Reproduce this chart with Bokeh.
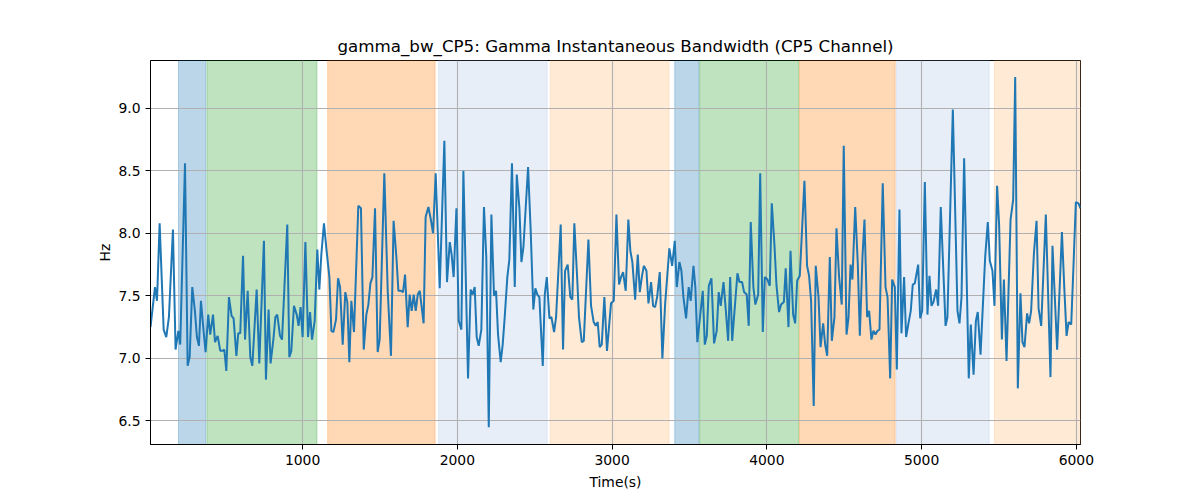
from bokeh.plotting import figure
from bokeh.models import Range1d, FixedTicker, PrintfTickFormatter, ColumnDataSource
from bokeh.embed import file_html
from bokeh.resources import INLINE

# ---- data ----
time_s = [
    17, 46, 59, 76, 102, 119, 136, 162, 179, 197, 209, 240, 257, 270, 287, 304, 317, 330, 343, 360,
    373, 390, 403, 421, 434, 451, 468, 481, 494, 507, 524, 541, 554, 572, 584, 597, 615, 628, 645, 662,
    675, 703, 720, 750, 763, 780, 793, 811, 824, 836, 854, 867, 901, 914, 927, 944, 962, 974, 987, 1000,
    1018, 1035, 1048, 1061, 1078, 1095, 1108, 1121, 1138, 1155, 1173, 1186, 1199, 1216, 1229, 1242, 1259, 1276, 1289, 1302,
    1315, 1332, 1360, 1377, 1395, 1412, 1425, 1438, 1451, 1468, 1485, 1498, 1528, 1550, 1571, 1588, 1606, 1619, 1636, 1649,
    1662, 1679, 1692, 1705, 1718, 1731, 1744, 1757, 1782, 1795, 1813, 1830, 1843, 1860, 1886, 1916, 1933, 1951, 1963, 1976,
    1994, 2009, 2026, 2039, 2069, 2086, 2099, 2112, 2125, 2138, 2155, 2172, 2187, 2203, 2220, 2237, 2250, 2263, 2280, 2293,
    2306, 2323, 2336, 2353, 2371, 2384, 2401, 2414, 2427, 2457, 2474, 2491, 2504, 2517, 2530, 2552, 2565, 2578, 2595, 2608,
    2625, 2638, 2668, 2683, 2696, 2713, 2730, 2743, 2756, 2774, 2786, 2804, 2817, 2847, 2864, 2881, 2894, 2907, 2920, 2933,
    2950, 2967, 2993, 3011, 3028, 3045, 3058, 3071, 3088, 3105, 3118, 3131, 3149, 3166, 3179, 3192, 3205, 3222, 3235, 3252,
    3265, 3278, 3291, 3308, 3325, 3343, 3370, 3388, 3405, 3418, 3435, 3448, 3461, 3478, 3495, 3508, 3526, 3538, 3551, 3586,
    3599, 3612, 3625, 3642, 3659, 3676, 3689, 3702, 3720, 3732, 3750, 3763, 3776, 3810, 3823, 3840, 3853, 3870, 3883, 3896,
    3913, 3926, 3944, 3957, 3974, 3987, 4004, 4019, 4032, 4049, 4062, 4079, 4092, 4110, 4122, 4140, 4153, 4170, 4183, 4196,
    4213, 4243, 4260, 4273, 4286, 4303, 4316, 4334, 4347, 4364, 4377, 4390, 4407, 4420, 4437, 4450, 4467, 4484, 4497, 4515,
    4528, 4541, 4553, 4571, 4588, 4601, 4618, 4631, 4648, 4661, 4676, 4689, 4702, 4715, 4728, 4749, 4767, 4780, 4797, 4810,
    4827, 4840, 4857, 4870, 4887, 4900, 4918, 4930, 4943, 4956, 4978, 4991, 5004, 5021, 5038, 5051, 5064, 5077, 5094, 5107,
    5124, 5155, 5167, 5202, 5232, 5245, 5258, 5275, 5305, 5318, 5336, 5351, 5363, 5381, 5411, 5428, 5441, 5458, 5471, 5488,
    5501, 5519, 5532, 5549, 5575, 5592, 5605, 5622, 5639, 5652, 5665, 5682, 5695, 5708, 5726, 5743, 5756, 5773, 5803, 5833,
    5846, 5861, 5876, 5907, 5922, 5937, 5950, 5967, 5982, 5997, 6014, 6027,
]
bandwidth_hz = [
    7.25, 7.57, 7.46, 8.08, 7.23, 7.17, 7.33, 8.03, 7.07, 7.22, 7.11, 8.56, 6.94, 7.01, 7.57, 7.38, 7.17, 7.10, 7.46, 7.22,
    7.05, 7.35, 7.19, 7.35, 7.13, 7.18, 7.06, 7.06, 7.07, 6.90, 7.49, 7.34, 7.32, 7.02, 7.20, 7.20, 7.82, 7.15, 7.54, 7.01,
    6.94, 7.55, 6.96, 7.94, 6.83, 7.39, 6.96, 7.15, 7.33, 7.35, 7.18, 7.15, 8.07, 7.01, 7.06, 7.42, 7.35, 7.26, 7.41, 7.17,
    7.93, 7.17, 7.37, 7.15, 7.30, 7.87, 7.55, 7.83, 8.08, 7.86, 7.65, 7.22, 7.21, 7.31, 7.64, 7.57, 7.11, 7.53, 7.45, 6.97,
    7.46, 7.21, 8.22, 8.20, 7.07, 7.35, 7.43, 7.60, 7.65, 8.20, 7.05, 7.15, 8.48, 7.54, 7.02, 8.10, 7.81, 7.54, 7.54, 7.53,
    7.67, 7.25, 7.51, 7.38, 7.51, 7.38, 7.51, 7.54, 7.28, 8.13, 8.21, 8.10, 8.00, 8.48, 7.56, 8.74, 7.61, 7.93, 7.83, 7.65,
    8.20, 7.30, 7.23, 8.50, 6.84, 7.55, 7.51, 7.57, 7.17, 7.10, 7.23, 8.21, 7.81, 6.45, 8.15, 7.50, 7.54, 7.19, 6.97, 7.11,
    7.33, 7.65, 7.79, 8.56, 7.57, 8.47, 8.20, 7.77, 7.89, 8.53, 8.02, 7.39, 7.56, 7.51, 7.49, 6.94, 7.51, 7.65, 7.32, 7.33,
    7.21, 7.33, 8.07, 7.07, 7.70, 7.75, 7.49, 7.47, 8.08, 7.65, 7.33, 7.13, 7.14, 7.95, 7.42, 7.29, 7.26, 7.29, 7.09, 7.11,
    7.49, 7.06, 7.44, 7.46, 8.15, 7.59, 7.65, 7.69, 7.54, 8.11, 7.86, 7.77, 7.47, 7.83, 7.53, 7.65, 7.74, 7.70, 7.44, 7.61,
    7.42, 7.41, 7.49, 7.69, 7.00, 7.44, 7.88, 7.74, 7.94, 7.57, 7.77, 7.70, 7.49, 7.32, 7.57, 7.46, 7.74, 7.57, 7.13, 7.54,
    7.11, 7.18, 7.58, 7.64, 7.12, 7.22, 7.53, 7.42, 7.61, 7.43, 7.14, 7.65, 7.14, 7.68, 7.61, 7.61, 7.53, 7.51, 7.26, 8.09,
    7.57, 7.43, 7.51, 8.48, 7.21, 7.65, 7.63, 7.58, 8.24, 7.91, 7.59, 7.37, 7.43, 7.45, 7.72, 7.25, 7.86, 7.35, 7.28, 7.62,
    7.66, 8.42, 7.74, 7.66, 7.46, 6.62, 7.74, 7.49, 7.09, 7.28, 7.11, 7.02, 7.81, 7.14, 7.33, 8.04, 7.65, 7.43, 8.70, 7.19,
    7.33, 7.75, 7.63, 8.21, 7.75, 7.18, 7.81, 8.11, 7.33, 7.38, 7.15, 7.22, 7.19, 7.22, 7.23, 8.40, 7.57, 7.49, 6.84, 7.63,
    7.57, 6.91, 8.19, 7.20, 7.65, 7.17, 7.30, 7.38, 7.59, 7.60, 7.75, 7.32, 7.38, 8.41, 7.35, 7.66, 7.42, 7.45, 7.55, 7.42,
    8.21, 7.26, 7.33, 8.99, 7.38, 7.28, 7.49, 8.60, 6.84, 7.27, 6.87, 7.30, 7.37, 7.03, 7.81, 8.09, 7.78, 7.70, 7.42, 8.38,
    8.07, 7.15, 7.63, 6.98, 8.11, 8.27, 9.25, 6.76, 7.52, 7.13, 7.09, 7.36, 7.28, 7.38, 7.84, 8.10, 7.40, 7.26, 8.15, 6.85,
    7.90, 7.49, 7.07, 8.01, 7.57, 7.18, 7.29, 7.27, 7.75, 8.25, 8.24, 8.20,
]

span_start = [198, 382, 1162, 1879, 2601, 3405, 3566, 4211, 4836, 5471]
span_end = [375, 1093, 1856, 2580, 3368, 3562, 4206, 4829, 5437, 6027]
span_color = ["#1f77b4", "#2ca02c", "#ff7f0e", "#aec7e8", "#ffbb78",
              "#1f77b4", "#2ca02c", "#ff7f0e", "#aec7e8", "#ffbb78"]

x_ticks = [1000, 2000, 3000, 4000, 5000, 6000]
y_ticks = [6.5, 7.0, 7.5, 8.0, 8.5, 9.0]

title_text = "gamma_bw_CP5: Gamma Instantaneous Bandwidth (CP5 Channel)"
x_label = "Time(s)"
y_label = "Hz"

FONT = "DejaVu Sans"

p = figure(
    width=1192, height=492,
    output_backend="svg", toolbar_location=None,
    x_range=Range1d(17, 6027), y_range=Range1d(6.311, 9.382),
    title=title_text,
    min_border_left=150, min_border_right=112,
    min_border_top=60, min_border_bottom=47,
)
p.background_fill_color = "white"
p.border_fill_color = "white"
p.outline_line_color = "black"
p.outline_line_width = 1

spans = ColumnDataSource(dict(left=span_start, right=span_end, color=span_color))
p.quad(left="left", right="right", bottom=5.0, top=10.0, source=spans,
       fill_color="color", fill_alpha=0.3, line_color="color", line_alpha=0.3,
       line_width=1, level="image")

src = ColumnDataSource(dict(t=time_s, v=bandwidth_hz))
p.line("t", "v", source=src, line_color="#1f77b4", line_width=2.0)

p.title.align = "center"
p.title.text_font = FONT
p.title.text_font_style = "normal"
p.title.text_font_size = "16.7px"
p.title.text_color = "black"

p.xaxis.ticker = FixedTicker(ticks=x_ticks)
p.yaxis.ticker = FixedTicker(ticks=y_ticks)
p.xgrid.ticker = FixedTicker(ticks=x_ticks)
p.ygrid.ticker = FixedTicker(ticks=y_ticks)
p.yaxis.formatter = PrintfTickFormatter(format="%.1f")

p.xaxis.axis_label = x_label
p.yaxis.axis_label = y_label
for ax in (p.xaxis, p.yaxis):
    ax.axis_label_text_font = FONT
    ax.axis_label_text_font_style = "normal"
    ax.axis_label_text_font_size = "13.9px"
    ax.axis_label_text_color = "black"
    ax.major_label_text_font = FONT
    ax.major_label_text_font_size = "13.9px"
    ax.major_label_text_color = "black"
    ax.minor_tick_line_color = None
    ax.major_tick_in = 0
    ax.major_tick_out = 5
    ax.major_tick_line_color = "black"
    ax.axis_line_color = "black"
    ax.major_label_standoff = 5
p.xaxis.axis_label_standoff = 6
p.yaxis.axis_label_standoff = 2

p.grid.grid_line_color = "#b0b0b0"
p.grid.grid_line_width = 1.1

open("out.html", "w").write(file_html(p, INLINE))
